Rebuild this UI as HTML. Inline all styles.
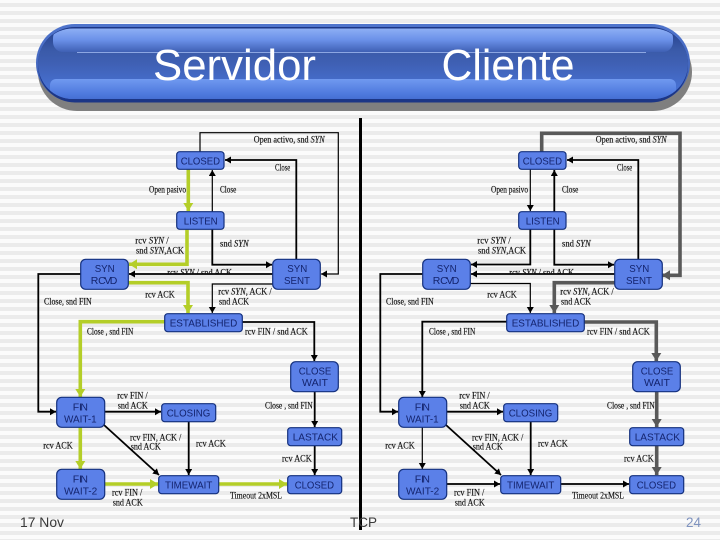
<!DOCTYPE html>
<html><head><meta charset="utf-8"><style>
html,body{margin:0;padding:0;width:720px;height:540px;overflow:hidden;background:repeating-linear-gradient(180deg,#fbfbfb 0,#fbfbfb 3px,#ebebeb 3px,#ebebeb 7px,#fbfbfb 7px,#fbfbfb 8px)}
svg{display:block}
.n rect{fill:#5b80e8;stroke:#14307e;stroke-width:1.2}
.n text{font:10.5px "Liberation Sans",sans-serif;fill:#14246e}
.l text{font:9px "Liberation Serif",serif;fill:#111;stroke:#111;stroke-width:.15}
.l tspan{font-style:italic}
.k,.t,.g,.d{fill:none}
.k{stroke:#000;stroke-width:1.8;marker-end:url(#ak)}
.t{stroke:#000;stroke-width:1.2;marker-end:url(#ak)}
.g{stroke:#b4ce28;stroke-width:3.6;marker-end:url(#ag)}
.d{stroke:#595959;stroke-width:3.6;marker-end:url(#ad)}
</style></head><body>
<svg width="720" height="540" viewBox="0 0 720 540" xmlns="http://www.w3.org/2000/svg">
<defs>
<marker id="ak" markerUnits="userSpaceOnUse" markerWidth="8" markerHeight="8" refX="6" refY="3.5" orient="auto"><path d="M0 0L6 3.5L0 7z" fill="#000"/></marker>
<marker id="ag" markerUnits="userSpaceOnUse" markerWidth="10" markerHeight="12" refX="8" refY="5" orient="auto"><path d="M0 0L8 5L0 10z" fill="#b4ce28"/></marker>
<marker id="ad" markerUnits="userSpaceOnUse" markerWidth="10" markerHeight="12" refX="8" refY="5" orient="auto"><path d="M0 0L8 5L0 10z" fill="#595959"/></marker>
<linearGradient id="base" x1="0" y1="0" x2="0" y2="1"><stop offset="0" stop-color="#24408c"/><stop offset=".3" stop-color="#3a5aa8"/><stop offset=".5" stop-color="#3f60b4"/><stop offset="1" stop-color="#4a78e0"/></linearGradient>
<linearGradient id="outer" x1="0" y1="0" x2="0" y2="1"><stop offset="0" stop-color="#4f74cc"/><stop offset="1" stop-color="#3a5cb4"/></linearGradient>
<linearGradient id="hi" x1="0" y1="0" x2="0" y2="1"><stop offset="0" stop-color="#8fb0f5"/><stop offset=".5" stop-color="#6a90e8"/><stop offset="1" stop-color="#3f60b4"/></linearGradient>
<linearGradient id="lo" x1="0" y1="0" x2="0" y2="1"><stop offset="0" stop-color="#7099f0"/><stop offset=".6" stop-color="#4f7ade"/><stop offset="1" stop-color="#3e66cc"/></linearGradient>
<clipPath id="bc"><rect x="38" y="28.5" width="650" height="70.5" rx="35"/></clipPath>
<clipPath id="c1"><rect x="130" y="262" width="140" height="12"/></clipPath>
<clipPath id="c2"><rect x="472" y="262" width="140" height="12"/></clipPath>
</defs>

<!-- banner -->
<rect x="38" y="33" width="654" height="78" rx="39" fill="#7f7f7f"/>
<rect x="36" y="24" width="654" height="78" rx="39" fill="url(#outer)"/>
<rect x="38" y="27" width="650" height="75.5" rx="37" fill="#1c3686"/>
<rect x="38" y="28.5" width="650" height="70.5" rx="35" fill="url(#base)"/>
<g clip-path="url(#bc)">
<rect x="53" y="28" width="620" height="24" rx="10" fill="url(#hi)"/>
<rect x="50" y="79" width="626" height="24" rx="6" fill="url(#lo)"/>
</g>
<rect x="77" y="52" width="569" height="1" fill="#8ca6e2"/>
<text x="153" y="80" font-family="Liberation Sans,sans-serif" font-size="44" fill="#fff" textLength="163" lengthAdjust="spacingAndGlyphs">Servidor</text>
<text x="441.5" y="80" font-family="Liberation Sans,sans-serif" font-size="44" fill="#fff" textLength="133" lengthAdjust="spacingAndGlyphs">Cliente</text>

<!-- divider -->
<rect x="359" y="118" width="3" height="412" fill="#000"/>

<!-- LEFT connectors -->
<path class="t" d="M200 152V132.7H338.3V274H321"/>
<path class="k" d="M296.3 259V160H225"/>
<path class="t" d="M212.3 211.7V170"/>
<path class="g" d="M188.3 169V211"/>
<path class="g" d="M187 229V264.3H129"/>
<path class="k" d="M212.3 229V264.7H272"/>
<path class="k" d="M273 274H129"/>
<path class="g" d="M128 282.7H188V313"/>
<path class="t" d="M273 284H212.3V313"/>
<path class="k" d="M81 274H38.3V411.7H56"/>
<path class="g" d="M165 321.7H80.3V397"/>
<path class="k" d="M242 322H314.3V361"/>
<path class="k" d="M104 411.7H161"/>
<path class="k" d="M104 425L159 475"/>
<path class="k" d="M188.7 421.7V475"/>
<path class="g" d="M80.3 427V469"/>
<path class="g" d="M104 484H158"/>
<path class="g" d="M218 484H287"/>
<path class="k" d="M314.7 391V427"/>
<path class="k" d="M314.7 445V475"/>

<!-- LEFT nodes -->
<g class="n">
<rect x="176.7" y="151.7" width="47.3" height="17.6" rx="3"/><text x="180.7" y="164.3" textLength="39.3" lengthAdjust="spacingAndGlyphs">CLOSED</text>
<rect x="176.7" y="211.7" width="47.3" height="17.6" rx="3"/><text x="183.7" y="224.3" textLength="34" lengthAdjust="spacingAndGlyphs">LISTEN</text>
<rect x="80.7" y="259.3" width="47.6" height="30" rx="5"/><text x="94.7" y="272" textLength="20" lengthAdjust="spacingAndGlyphs">SYN</text><text x="90.7" y="284" textLength="26.6" lengthAdjust="spacing">R CVD</text>
<rect x="272.7" y="259.3" width="47.6" height="30" rx="5"/><text x="287.3" y="272" textLength="20" lengthAdjust="spacingAndGlyphs">SYN</text><text x="284" y="284" textLength="26" lengthAdjust="spacingAndGlyphs">SENT</text>
<rect x="164.7" y="313.7" width="77.6" height="18" rx="3"/><text x="169.7" y="326.7" textLength="67.6" lengthAdjust="spacingAndGlyphs">ESTABLISHED</text>
<rect x="290.7" y="361.7" width="47.6" height="30" rx="5"/><text x="298.7" y="374.3" textLength="32.6" lengthAdjust="spacingAndGlyphs">CLOSE</text><text x="302" y="386" textLength="26" lengthAdjust="spacingAndGlyphs">WAIT</text>
<rect x="56.7" y="397.3" width="48" height="30" rx="5"/><text x="72.7" y="410.3" textLength="15.3" lengthAdjust="spacing">F IN</text><text x="64" y="422.3" textLength="32.7" lengthAdjust="spacingAndGlyphs">WAIT-1</text>
<rect x="161.7" y="403.7" width="54" height="18" rx="3"/><text x="166.7" y="416.3" textLength="43.6" lengthAdjust="spacingAndGlyphs">CLOSING</text>
<rect x="287.7" y="427.7" width="54" height="18" rx="3"/><text x="292.7" y="440.3" textLength="45.3" lengthAdjust="spacingAndGlyphs">LASTACK</text>
<rect x="56.7" y="469.3" width="48" height="30" rx="5"/><text x="72.7" y="482.3" textLength="15.3" lengthAdjust="spacing">F IN</text><text x="64" y="494.3" textLength="33.3" lengthAdjust="spacingAndGlyphs">WAIT-2</text>
<rect x="158.7" y="475.7" width="60" height="18" rx="3"/><text x="165" y="488.3" textLength="47.3" lengthAdjust="spacingAndGlyphs">TIMEWAIT</text>
<rect x="287.7" y="475.7" width="54" height="18" rx="3"/><text x="294.7" y="488.3" textLength="39.3" lengthAdjust="spacingAndGlyphs">CLOSED</text>
</g>

<!-- LEFT labels -->
<g class="l">
<text x="253.7" y="142.7" textLength="71" lengthAdjust="spacingAndGlyphs">Open activo, snd <tspan>SYN</tspan></text>
<text x="275" y="170.7" textLength="15.3" lengthAdjust="spacingAndGlyphs">Close</text>
<text x="149" y="192.7" textLength="37" lengthAdjust="spacingAndGlyphs">Open pasivo</text>
<text x="220" y="192.7" textLength="16.3" lengthAdjust="spacingAndGlyphs">Close</text>
<text x="135.3" y="243.3" textLength="33.4" lengthAdjust="spacingAndGlyphs">rcv <tspan>SYN</tspan> /</text>
<text x="136" y="253.7" textLength="48" lengthAdjust="spacingAndGlyphs">snd <tspan>SYN</tspan>,ACK</text>
<text x="220" y="246.7" textLength="28.7" lengthAdjust="spacingAndGlyphs">snd <tspan>SYN</tspan></text>
<g clip-path="url(#c1)"><text x="167.3" y="275.5" textLength="64.7" lengthAdjust="spacingAndGlyphs">rcv <tspan>SYN</tspan> / snd ACK</text></g>
<text x="145.3" y="297.3" textLength="29.4" lengthAdjust="spacingAndGlyphs">rcv ACK</text>
<text x="218.3" y="294.7" textLength="53.4" lengthAdjust="spacingAndGlyphs">rcv <tspan>SYN</tspan>, ACK /</text>
<text x="219" y="304.3" textLength="30" lengthAdjust="spacingAndGlyphs">snd ACK</text>
<text x="44" y="304.3" textLength="47.7" lengthAdjust="spacingAndGlyphs">Close, snd FIN</text>
<text x="87" y="334.3" textLength="46.3" lengthAdjust="spacingAndGlyphs">Close , snd FIN</text>
<text x="245" y="334.3" textLength="62.7" lengthAdjust="spacingAndGlyphs">rcv FIN / snd ACK</text>
<text x="117.3" y="398.7" textLength="30.4" lengthAdjust="spacingAndGlyphs">rcv FIN /</text>
<text x="117.7" y="408.7" textLength="30" lengthAdjust="spacingAndGlyphs">snd ACK</text>
<text x="130" y="440.7" textLength="51.3" lengthAdjust="spacingAndGlyphs">rcv FIN, ACK /</text>
<text x="130.7" y="449.3" textLength="30" lengthAdjust="spacingAndGlyphs">snd ACK</text>
<text x="196" y="446.7" textLength="29.7" lengthAdjust="spacingAndGlyphs">rcv ACK</text>
<text x="43.3" y="448.7" textLength="29.4" lengthAdjust="spacingAndGlyphs">rcv ACK</text>
<text x="112" y="495.7" textLength="30.3" lengthAdjust="spacingAndGlyphs">rcv FIN /</text>
<text x="112.7" y="505.7" textLength="30" lengthAdjust="spacingAndGlyphs">snd ACK</text>
<text x="230" y="498.7" textLength="52" lengthAdjust="spacingAndGlyphs">Timeout 2xMSL</text>
<text x="265" y="408.7" textLength="47.7" lengthAdjust="spacingAndGlyphs">Close , snd FIN</text>
<text x="282" y="461.7" textLength="29.7" lengthAdjust="spacingAndGlyphs">rcv ACK</text>
</g>

<!-- RIGHT connectors -->
<path class="d" d="M541.7 152V133.3H680V275.3H662"/>
<path class="k" d="M638.3 259V160H567"/>
<path class="k" d="M554.3 211.7V170"/>
<path class="t" d="M530.3 169V211"/>
<path class="k" d="M530.3 229V264.5H471"/>
<path class="k" d="M554.3 229V264.7H614"/>
<path class="k" d="M615 274H471"/>
<path class="t" d="M470 283.5H530.3V313"/>
<path class="d" d="M615 282.7H554.3V313"/>
<path class="k" d="M423 274H380.3V411.7H398"/>
<path class="k" d="M519 321.7H422.3V397"/>
<path class="d" d="M584 322H656.3V361"/>
<path class="k" d="M446 411.7H503"/>
<path class="k" d="M446 425L501 475"/>
<path class="k" d="M530.7 421.7V475"/>
<path class="t" d="M422.3 427V469"/>
<path class="k" d="M446 484H500"/>
<path class="k" d="M560 484H629"/>
<path class="d" d="M656.7 391V427"/>
<path class="d" d="M656.7 445V475"/>

<!-- RIGHT nodes -->
<g class="n">
<rect x="518.7" y="151.7" width="47.3" height="17.6" rx="3"/><text x="522.7" y="164.3" textLength="39.3" lengthAdjust="spacingAndGlyphs">CLOSED</text>
<rect x="518.7" y="211.7" width="47.3" height="17.6" rx="3"/><text x="525.7" y="224.3" textLength="34" lengthAdjust="spacingAndGlyphs">LISTEN</text>
<rect x="422.7" y="259.3" width="47.6" height="30" rx="5"/><text x="436.7" y="272" textLength="20" lengthAdjust="spacingAndGlyphs">SYN</text><text x="432.7" y="284" textLength="26.6" lengthAdjust="spacing">R CVD</text>
<rect x="614.7" y="259.3" width="47.6" height="30" rx="5"/><text x="629.3" y="272" textLength="20" lengthAdjust="spacingAndGlyphs">SYN</text><text x="626" y="284" textLength="26" lengthAdjust="spacingAndGlyphs">SENT</text>
<rect x="506.7" y="313.7" width="77.6" height="18" rx="3"/><text x="511.7" y="326.7" textLength="67.6" lengthAdjust="spacingAndGlyphs">ESTABLISHED</text>
<rect x="632.7" y="361.7" width="47.6" height="30" rx="5"/><text x="640.7" y="374.3" textLength="32.6" lengthAdjust="spacingAndGlyphs">CLOSE</text><text x="644" y="386" textLength="26" lengthAdjust="spacingAndGlyphs">WAIT</text>
<rect x="398.7" y="397.3" width="48" height="30" rx="5"/><text x="414.7" y="410.3" textLength="15.3" lengthAdjust="spacing">F IN</text><text x="406" y="422.3" textLength="32.7" lengthAdjust="spacingAndGlyphs">WAIT-1</text>
<rect x="503.7" y="403.7" width="54" height="18" rx="3"/><text x="508.7" y="416.3" textLength="43.6" lengthAdjust="spacingAndGlyphs">CLOSING</text>
<rect x="629.7" y="427.7" width="54" height="18" rx="3"/><text x="634.7" y="440.3" textLength="45.3" lengthAdjust="spacingAndGlyphs">LASTACK</text>
<rect x="398.7" y="469.3" width="48" height="30" rx="5"/><text x="414.7" y="482.3" textLength="15.3" lengthAdjust="spacing">F IN</text><text x="406" y="494.3" textLength="33.3" lengthAdjust="spacingAndGlyphs">WAIT-2</text>
<rect x="500.7" y="475.7" width="60" height="18" rx="3"/><text x="507" y="488.3" textLength="47.3" lengthAdjust="spacingAndGlyphs">TIMEWAIT</text>
<rect x="629.7" y="475.7" width="54" height="18" rx="3"/><text x="636.7" y="488.3" textLength="39.3" lengthAdjust="spacingAndGlyphs">CLOSED</text>
</g>

<!-- RIGHT labels -->
<g class="l">
<text x="595.7" y="142.7" textLength="71" lengthAdjust="spacingAndGlyphs">Open activo, snd <tspan>SYN</tspan></text>
<text x="617" y="170.7" textLength="15.3" lengthAdjust="spacingAndGlyphs">Close</text>
<text x="491" y="192.7" textLength="37" lengthAdjust="spacingAndGlyphs">Open pasivo</text>
<text x="562" y="192.7" textLength="16.3" lengthAdjust="spacingAndGlyphs">Close</text>
<text x="477.3" y="243.3" textLength="33.4" lengthAdjust="spacingAndGlyphs">rcv <tspan>SYN</tspan> /</text>
<text x="478" y="253.7" textLength="48" lengthAdjust="spacingAndGlyphs">snd <tspan>SYN</tspan>,ACK</text>
<text x="562" y="246.7" textLength="28.7" lengthAdjust="spacingAndGlyphs">snd <tspan>SYN</tspan></text>
<g clip-path="url(#c2)"><text x="509.3" y="275.5" textLength="64.7" lengthAdjust="spacingAndGlyphs">rcv <tspan>SYN</tspan> / snd ACK</text></g>
<text x="487.3" y="297.3" textLength="29.4" lengthAdjust="spacingAndGlyphs">rcv ACK</text>
<text x="560.3" y="294.7" textLength="53.4" lengthAdjust="spacingAndGlyphs">rcv <tspan>SYN</tspan>, ACK /</text>
<text x="561" y="304.3" textLength="30" lengthAdjust="spacingAndGlyphs">snd ACK</text>
<text x="386" y="304.3" textLength="47.7" lengthAdjust="spacingAndGlyphs">Close, snd FIN</text>
<text x="429" y="334.3" textLength="46.3" lengthAdjust="spacingAndGlyphs">Close , snd FIN</text>
<text x="587" y="334.3" textLength="62.7" lengthAdjust="spacingAndGlyphs">rcv FIN / snd ACK</text>
<text x="459.3" y="398.7" textLength="30.4" lengthAdjust="spacingAndGlyphs">rcv FIN /</text>
<text x="459.7" y="408.7" textLength="30" lengthAdjust="spacingAndGlyphs">snd ACK</text>
<text x="472" y="440.7" textLength="51.3" lengthAdjust="spacingAndGlyphs">rcv FIN, ACK /</text>
<text x="472.7" y="449.3" textLength="30" lengthAdjust="spacingAndGlyphs">snd ACK</text>
<text x="538" y="446.7" textLength="29.7" lengthAdjust="spacingAndGlyphs">rcv ACK</text>
<text x="385.3" y="448.7" textLength="29.4" lengthAdjust="spacingAndGlyphs">rcv ACK</text>
<text x="454" y="495.7" textLength="30.3" lengthAdjust="spacingAndGlyphs">rcv FIN /</text>
<text x="454.7" y="505.7" textLength="30" lengthAdjust="spacingAndGlyphs">snd ACK</text>
<text x="572" y="498.7" textLength="52" lengthAdjust="spacingAndGlyphs">Timeout 2xMSL</text>
<text x="607" y="408.7" textLength="47.7" lengthAdjust="spacingAndGlyphs">Close , snd FIN</text>
<text x="624" y="461.7" textLength="29.7" lengthAdjust="spacingAndGlyphs">rcv ACK</text>
</g>

<!-- footer -->
<g font-family="Liberation Sans,sans-serif" font-size="14">
<text x="20" y="527" fill="#3a3a3a" textLength="44" lengthAdjust="spacingAndGlyphs">17 Nov</text>
<text x="350" y="527" fill="#3a3a3a" textLength="27" lengthAdjust="spacingAndGlyphs">TCP</text>
<text x="686" y="527" fill="#7f93bf" textLength="15" lengthAdjust="spacingAndGlyphs">24</text>
</g>
</svg>
</body></html>
